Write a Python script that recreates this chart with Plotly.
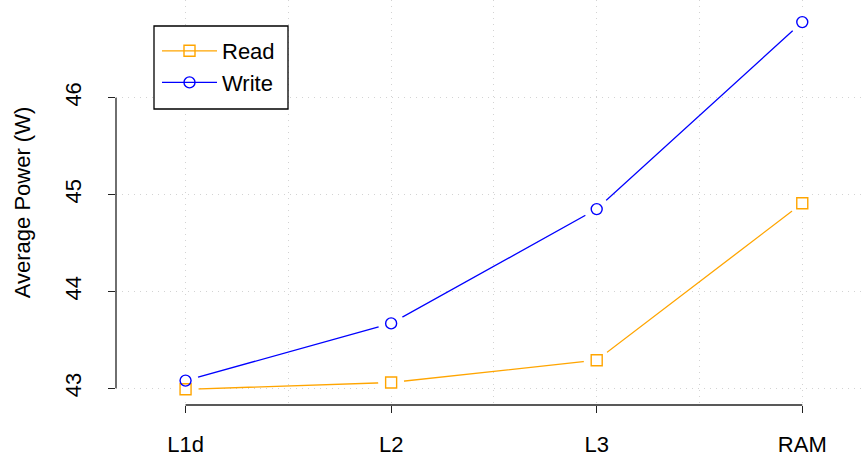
import plotly.graph_objects as go

# Cache level on the x axis, average power draw on the y axis
levels = ["L1d", "L2", "L3", "RAM"]
read_power = [42.99, 43.06, 43.29, 44.91]
write_power = [43.08, 43.67, 44.85, 46.78]
y_ticks = [43, 44, 45, 46]

x_pos = list(range(1, len(levels) + 1))
mid_pos = [p + 0.5 for p in x_pos[:-1]]

FONT = "Liberation Sans, Arial, sans-serif"
FS = 22
GRID = "#D3D3D3"
AXIS = "#222222"
DOTS = "1px,5px"
X_RANGE = [0.6616, 4.310]
Y_RANGE = [42.828, 47.008]

series = [
    ("Read", read_power, "#FFA500", "square-open"),
    ("Write", write_power, "#0000FF", "circle-open"),
]

fig = go.Figure()

# connecting lines on the base axes
for name, vals, color, sym in series:
    fig.add_trace(go.Scatter(
        x=x_pos, y=vals, mode="lines", showlegend=False, hoverinfo="skip",
        line=dict(color=color, width=1.3),
    ))

# points live on an overlaid copy of the axes so they sit above every line;
# white halos leave a gap in the lines around each point (type="b" look)
for name, vals, color, sym in series:
    fig.add_trace(go.Scatter(
        x=x_pos, y=vals, mode="markers", showlegend=False, hoverinfo="skip",
        xaxis="x2", yaxis="y2",
        marker=dict(symbol="circle", size=26, color="white", line=dict(width=0)),
    ))

for name, vals, color, sym in series:
    fig.add_trace(go.Scatter(
        x=x_pos, y=vals, mode="markers", name=name, showlegend=False,
        xaxis="x2", yaxis="y2",
        marker=dict(symbol=sym, size=11, color=color, line=dict(color=color, width=1.4)),
    ))
    fig.add_trace(go.Scatter(
        x=[None], y=[None], mode="lines+markers", name=name,
        xaxis="x2", yaxis="y2",
        line=dict(color=color, width=1.3),
        marker=dict(symbol=sym, size=11, color=color, line=dict(color=color, width=1.4)),
    ))

# R-style axis lines spanning only the tick range
fig.add_shape(type="line", xref="x", yref="paper", x0=x_pos[0], x1=x_pos[-1], y0=0, y1=0,
              line=dict(color=AXIS, width=1.3))
fig.add_shape(type="line", xref="paper", yref="y", x0=0, x1=0, y0=y_ticks[0], y1=y_ticks[-1],
              line=dict(color=AXIS, width=1.3))

# legend frame
fig.add_shape(type="rect", xref="paper", yref="paper",
              x0=(154 - 116) / 750, x1=(288 - 116) / 750,
              y0=1 - 109 / 405, y1=1 - 26 / 405,
              line=dict(color="black", width=1.3), fillcolor="white", layer="above")

fig.update_layout(
    width=866, height=458,
    margin=dict(l=116, r=0, t=0, b=53, pad=0),
    paper_bgcolor="white", plot_bgcolor="white",
    font=dict(family=FONT, size=FS, color="black"),
    legend=dict(
        x=(157 - 116) / 750, y=1 - 30 / 405, xanchor="left", yanchor="top",
        borderwidth=0, bgcolor="rgba(0,0,0,0)",
        font=dict(family=FONT, size=FS, color="black"),
        itemwidth=55, tracegroupgap=0,
    ),
    xaxis=dict(
        range=X_RANGE,
        tickvals=x_pos, ticktext=levels,
        ticks="outside", ticklen=7, tickwidth=1.3, tickcolor=AXIS,
        showline=False, zeroline=False,
        showgrid=True, gridcolor=GRID, gridwidth=1, griddash=DOTS,
        minor=dict(tickvals=mid_pos, showgrid=True, gridcolor=GRID, gridwidth=1,
                   griddash=DOTS, ticks=""),
        ticklabelstandoff=13,
        tickfont=dict(family=FONT, size=FS, color="black"),
    ),
    yaxis=dict(
        range=Y_RANGE,
        tickvals=y_ticks,
        ticks="outside", ticklen=7, tickwidth=1.3, tickcolor=AXIS,
        showline=False, zeroline=False,
        showgrid=True, gridcolor=GRID, gridwidth=1, griddash=DOTS,
        tickangle=-90,
        ticklabelstandoff=18,
        tickfont=dict(family=FONT, size=FS, color="black"),
        title=dict(text="Average Power (W)", standoff=24,
                   font=dict(family=FONT, size=FS, color="black")),
    ),
    xaxis2=dict(range=X_RANGE, overlaying="x", visible=False),
    yaxis2=dict(range=Y_RANGE, overlaying="y", visible=False),
)

fig.write_html("out.html")
